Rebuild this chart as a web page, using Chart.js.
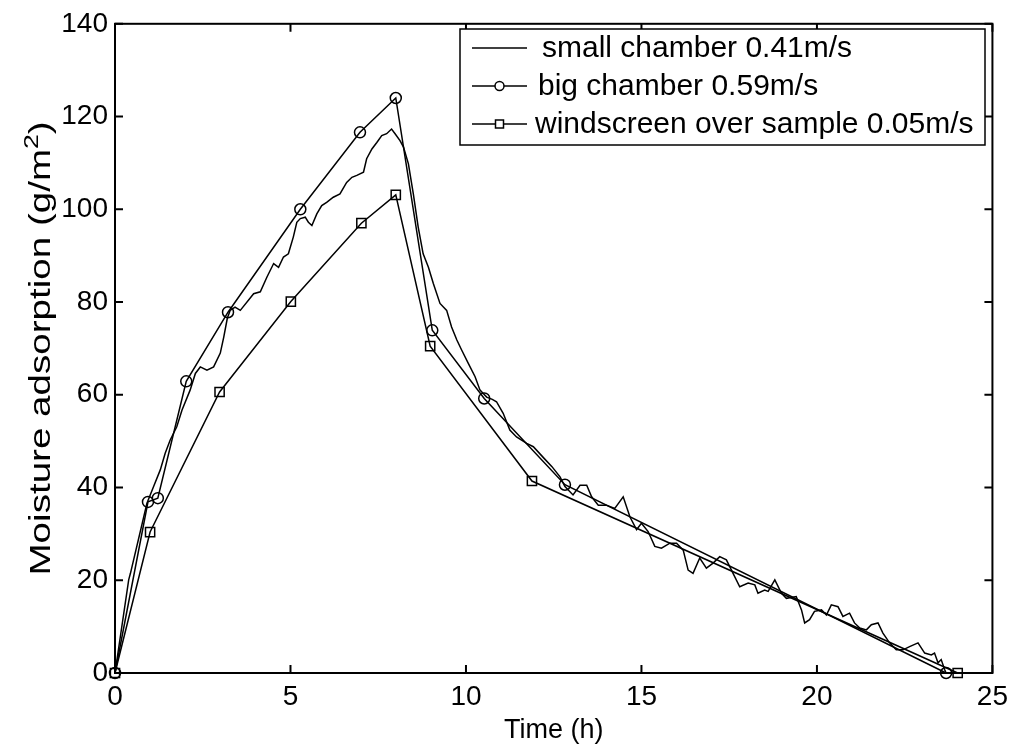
<!DOCTYPE html>
<html><head><meta charset="utf-8">
<style>html,body{margin:0;padding:0;background:#fff;}#wrap{width:1015px;height:751px;}</style>
<script src="https://cdn.jsdelivr.net/npm/chart.js@4.4.0/dist/chart.umd.min.js"></script>
</head><body><div id="wrap"><canvas id="c" width="1015" height="751"></canvas></div>
<script>
const xTicks = [0, 5, 10, 15, 20, 25];
const yTicks = [0, 20, 40, 60, 80, 100, 120, 140];
const seriesNames = ['small chamber 0.41m/s', 'big chamber 0.59m/s', 'windscreen over sample 0.05m/s'];
const xTitle = 'Time (h)';
const yTitleParts = ['Moisture adsorption (g/m', '2', ')'];

const smallX = [0, 0.39, 0.44, 0.91, 1.10, 1.29, 1.43, 1.57, 1.76, 1.91, 2.14, 2.29, 2.43, 2.62, 2.81, 3.0, 3.1, 3.2, 3.28,
  3.42, 3.57, 3.95, 4.14, 4.33, 4.52, 4.66, 4.80, 4.94, 5.08, 5.18, 5.28, 5.42, 5.51, 5.61, 5.75, 5.89, 6.03, 6.22, 6.41,
  6.60, 6.75, 6.89, 7.08, 7.17, 7.32, 7.46, 7.60, 7.74, 7.88, 7.98, 8.12, 8.22, 8.36, 8.5, 8.64, 8.78, 8.93, 9.07, 9.26,
  9.45, 9.59, 9.74, 9.88, 10.07, 10.26, 10.4, 10.59, 10.75, 10.87, 11.06, 11.25, 11.44, 11.73, 11.92, 12.2, 12.45, 12.68,
  12.82, 13.05, 13.25, 13.44, 13.58, 13.77, 14.0, 14.24, 14.48, 14.67, 14.86, 15.0, 15.19, 15.38, 15.57, 15.81, 16.0,
  16.19, 16.33, 16.47, 16.66, 16.85, 17.04, 17.23, 17.42, 17.61, 17.8, 18.04, 18.23, 18.32, 18.51, 18.61, 18.8, 18.99,
  19.13, 19.41, 19.56, 19.65, 19.79, 19.93, 20.13, 20.27, 20.41, 20.6, 20.74, 20.93, 21.07, 21.22, 21.41, 21.55, 21.74,
  21.88, 22.07, 22.26, 22.45, 22.64, 22.88, 23.07, 23.26, 23.35, 23.45, 23.54, 23.64, 23.68];
const smallY = [0, 20.1, 21.5, 36.6, 40.2, 43.8, 47.4, 50.2, 53.1, 56.7, 61.0, 64.6, 66.0, 65.3, 66.0, 69.0, 72.5, 76.5, 78.2,
  78.9, 78.2, 81.8, 82.2, 85.4, 88.3, 87.5, 89.7, 90.4, 94.0, 97.2, 98.0, 98.3, 97.2, 96.5, 99.0, 100.8, 101.5, 102.6, 103.3,
  105.8, 106.9, 107.3, 108.0, 110.9, 113.0, 114.4, 115.9, 116.3, 117.3, 116.3, 114.8, 113.4, 109.8, 103.3, 96.1, 90.4, 87.5, 84.0, 79.7,
  78.2, 74.6, 71.8, 69.6, 66.7, 63.9, 61.0, 59.5, 59.0, 58.5, 56.0, 52.4, 50.9, 49.5, 48.8, 46.5, 44.5, 42.3,
  40.2, 38.4, 40.5, 40.5, 38.0, 36.2, 36.2, 35.5, 38.0, 33.7, 30.9, 32.3, 30.5, 27.3, 26.9, 28.0, 28.0,
  26.5, 22.2, 21.5, 24.8, 22.6, 23.7, 25.1, 24.4, 21.5, 18.6, 19.4, 19.0, 17.2, 17.9, 17.6, 20.1, 17.2,
  16.1, 16.5, 13.6, 10.8, 11.5, 13.3, 13.6, 12.5, 14.7, 14.3, 12.2, 12.9, 10.8, 9.7, 9.3, 10.4, 10.8,
  8.6, 6.5, 5.0, 5.0, 5.7, 6.5, 4.3, 3.9, 4.3, 2.2, 2.9, 0.7, 0];

const bigX = [0, 0.94, 1.22, 2.03, 3.22, 5.28, 6.98, 8.0, 9.04, 10.52, 12.82, 23.68];
const bigY = [0, 36.9, 37.7, 62.9, 77.8, 100.0, 116.6, 124.0, 73.9, 59.2, 40.6, 0];

const screenX = [0, 1.0, 2.98, 5.01, 7.02, 8.0, 8.98, 11.88, 24.01];
const screenY = [0, 30.4, 60.6, 80.1, 97.0, 103.1, 70.5, 41.4, 0];

const FONT = "'Liberation Sans', Arial, Helvetica, sans-serif";
const pts = (xs, ys) => xs.map((v, i) => ({x: v, y: ys[i]}));

const boxPlugin = {
  id: 'matlabBox',
  afterDraw(chart) {
    const {ctx, chartArea: {left, right, top, bottom}, scales: {x, y}} = chart;
    ctx.save();
    ctx.strokeStyle = '#000';
    ctx.lineWidth = 2;
    ctx.strokeRect(left, top, right - left, bottom - top);
    const L = 8;
    ctx.beginPath();
    xTicks.forEach(v => {
      const px = x.getPixelForValue(v);
      ctx.moveTo(px, bottom); ctx.lineTo(px, bottom - L);
      ctx.moveTo(px, top); ctx.lineTo(px, top + L);
    });
    yTicks.forEach(v => {
      const py = y.getPixelForValue(v);
      ctx.moveTo(left, py); ctx.lineTo(left + L, py);
      ctx.moveTo(right, py); ctx.lineTo(right - L, py);
    });
    ctx.stroke();

    // y axis title (rotated, with superscript)
    ctx.save();
    ctx.translate(50, (top + bottom) / 2);
    ctx.rotate(-Math.PI / 2);
    ctx.scale(1.33, 1);
    ctx.fillStyle = '#000';
    ctx.textBaseline = 'alphabetic';
    ctx.textAlign = 'left';
    const fMain = '29px ' + FONT, fSup = '20px ' + FONT;
    ctx.font = fMain;
    const w0 = ctx.measureText(yTitleParts[0]).width;
    const w2 = ctx.measureText(yTitleParts[2]).width;
    ctx.font = fSup;
    const w1 = ctx.measureText(yTitleParts[1]).width;
    let sx = -(w0 + w1 + w2) / 2;
    ctx.font = fMain;
    ctx.fillText(yTitleParts[0], sx, 0);
    ctx.font = fSup;
    ctx.fillText(yTitleParts[1], sx + w0, -12);
    ctx.font = fMain;
    ctx.fillText(yTitleParts[2], sx + w0 + w1, 0);
    ctx.restore();

    // legend
    const lg = {l: 460, r: 985, t: 29, b: 145};
    ctx.fillStyle = '#fff';
    ctx.fillRect(lg.l, lg.t, lg.r - lg.l, lg.b - lg.t);
    ctx.lineWidth = 1.5;
    ctx.strokeRect(lg.l, lg.t, lg.r - lg.l, lg.b - lg.t);
    const rows = [48, 86, 124];
    const textX = [542, 538, 535];
    ctx.font = '30px ' + FONT;
    ctx.textBaseline = 'middle';
    ctx.textAlign = 'left';
    chart.data.datasets.forEach((ds, i) => {
      const yy = rows[i];
      ctx.strokeStyle = '#000';
      ctx.lineWidth = 1.5;
      ctx.beginPath();
      ctx.moveTo(472, yy); ctx.lineTo(527, yy);
      ctx.stroke();
      const mx = 499.5;
      if (ds.pointRadius > 0) {
        ctx.beginPath();
        if (ds.pointStyle === 'circle') {
          ctx.arc(mx, yy, 4.5, 0, Math.PI * 2);
        } else {
          ctx.rect(mx - 4, yy - 4, 8, 8);
        }
        ctx.fillStyle = '#fff';
        ctx.fill();
        ctx.stroke();
      }
      ctx.fillStyle = '#000';
      ctx.fillText(ds.label, textX[i], yy + 1);
    });
    ctx.restore();
  }
};

new Chart(document.getElementById('c'), {
  type: 'line',
  data: {
    datasets: [
      {label: seriesNames[0], data: pts(smallX, smallY), borderColor: '#000', borderWidth: 1.5, pointRadius: 0, tension: 0, clip: false},
      {label: seriesNames[1], data: pts(bigX, bigY), borderColor: '#000', borderWidth: 1.5, pointStyle: 'circle', pointRadius: 5.5,
        pointBorderColor: '#000', pointBackgroundColor: 'rgba(0,0,0,0)', pointBorderWidth: 1.5, tension: 0, clip: false},
      {label: seriesNames[2], data: pts(screenX, screenY), borderColor: '#000', borderWidth: 1.5, pointStyle: 'rect', pointRadius: 6.5,
        pointBorderColor: '#000', pointBackgroundColor: 'rgba(0,0,0,0)', pointBorderWidth: 1.5, tension: 0, clip: false}
    ]
  },
  options: {
    responsive: false,
    animation: false,
    devicePixelRatio: 1,
    layout: {padding: {top: 23, right: 22, left: 0, bottom: 0}},
    plugins: {legend: {display: false}, tooltip: {enabled: false}},
    scales: {
      x: {
        type: 'linear', min: 0, max: 25,
        afterBuildTicks: s => { s.ticks = xTicks.map(v => ({value: v})); },
        afterFit: s => { s.height = 78; },
        grid: {display: false, drawTicks: false},
        border: {display: false},
        ticks: {color: '#000', padding: 7, font: {family: FONT, size: 28}, maxRotation: 0, autoSkip: false},
        title: {display: true, text: xTitle, color: '#000', font: {family: FONT, size: 27}, padding: {top: 0, bottom: 4}}
      },
      y: {
        type: 'linear', min: 0, max: 140,
        afterBuildTicks: s => { s.ticks = yTicks.map(v => ({value: v})); },
        afterFit: s => { s.width = 115; },
        grid: {display: false, drawTicks: false},
        border: {display: false},
        ticks: {color: '#000', padding: 7, font: {family: FONT, size: 28}, autoSkip: false},
        title: {display: false}
      }
    }
  },
  plugins: [boxPlugin]
});
</script>
</body></html>
